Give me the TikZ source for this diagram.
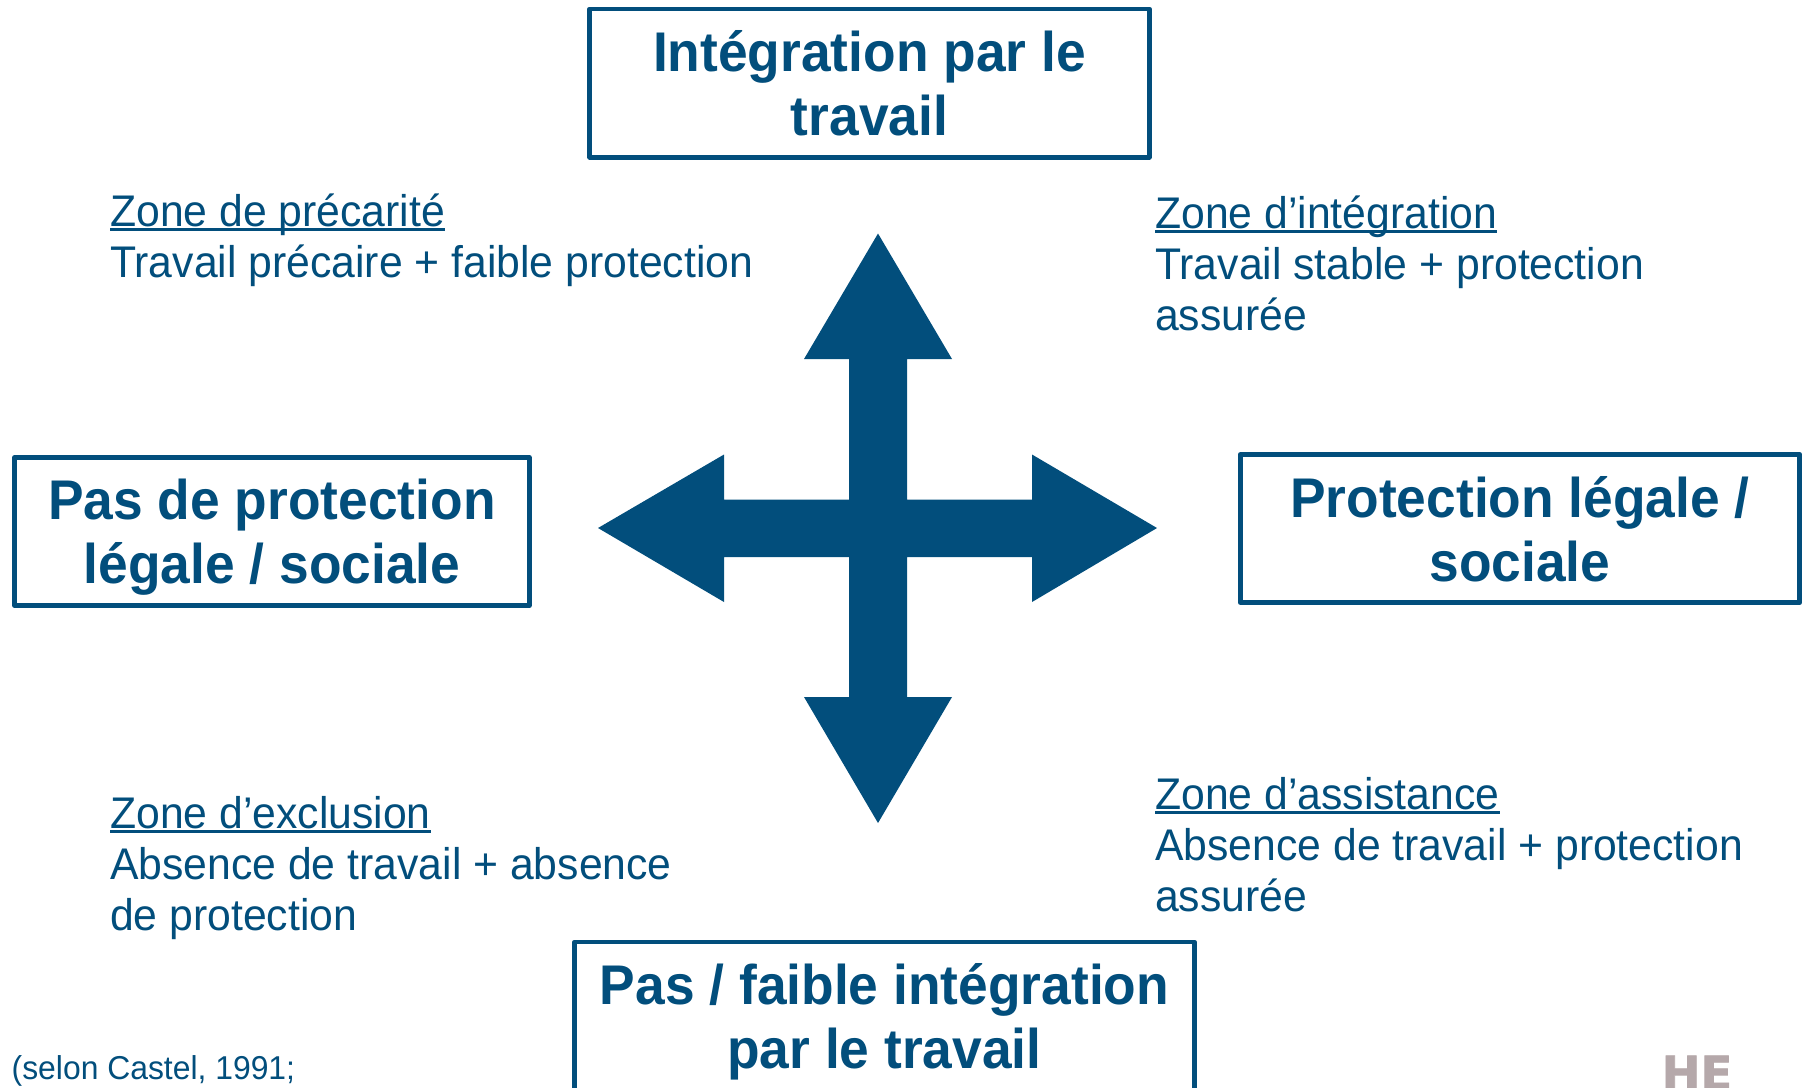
\documentclass[tikz,border=0pt]{standalone}
\usepackage{fontspec}
\setmainfont{Liberation Sans}[FakeStretch=0.964,BoldFeatures={FakeStretch=0.954}]
\newfontfamily\hefont{DejaVu Sans}[BoldFeatures={FakeBold=1.5}]
\definecolor{hesblue}{HTML}{024E7C}
\definecolor{hesgrey}{HTML}{B5A8AA}
\newsavebox{\zulbox}
\newcommand{\zul}[1]{\sbox{\zulbox}{#1}\rlap{\rule[-.1em]{\wd\zulbox}{.055em}}\usebox{\zulbox}}
\newcommand{\firstline}{\rule{0pt}{.8em}}
\tikzset{
  axisbox/.style={draw=hesblue,line width=1.4pt,line join=round,fill=white,inner sep=0pt,minimum height=1.48cm},
  axistext/.style={text=hesblue,align=center,inner sep=0pt,font=\fontsize{15.9}{18.2}\selectfont\bfseries},
  zonetext/.style={anchor=north west,inner sep=0pt,align=left,text=hesblue,
    font=\fontsize{12.6}{14.5}\selectfont},
  citetext/.style={anchor=north west,inner sep=0pt,text=hesblue,font=\fontsize{9.4}{11}\selectfont}
}
\begin{document}
\begin{tikzpicture}[x=0.01cm,y=-0.01cm]
\path[use as bounding box,clip] (0,0) rectangle (1804,1087);
% cross arrow
\fill[hesblue] (878,233.5) -- (952,359) -- (907,359) -- (907,499.5) -- (1032,499.5) -- (1032,454.5)
  -- (1157,528) -- (1032,602) -- (1032,557) -- (907,557) -- (907,697) -- (952,697)
  -- (878,823) -- (804,697) -- (849,697) -- (849,557) -- (724,557) -- (724,602)
  -- (598,528) -- (724,454.5) -- (724,499.5) -- (849,499.5) -- (849,359) -- (804,359) -- cycle;
% axis boxes
\node[axisbox,minimum width=5.59cm] (top) at (869.5,83) {};
\node[axistext] (toptext) at (top.center) {Intégration par le\\travail};
\node[axisbox,minimum width=5.14cm] (left) at (272,531.5) {};
\node[axistext] (lefttext) at ([yshift=-0.06cm]left.center) {Pas de protection\\légale / sociale};
\node[axisbox,minimum width=5.59cm] (right) at (1520,528.5) {};
\node[axistext] (righttext) at ([yshift=-0.012cm]right.center) {Protection légale /\\sociale};
\node[axisbox,minimum width=6.19cm] (bottom) at (884.5,1016) {};
\node[axistext] (bottomtext) at ([yshift=-0.06cm]bottom.center) {Pas / faible intégration\\par le travail};
% zone labels
\node[zonetext] (precarite) at (109.5,190) {\firstline\zul{Zone de précarité}\\Travail précaire + faible protection};
\node[zonetext] (integration) at (1154.5,192) {\firstline\zul{Zone d’intégration}\\Travail stable + protection\\assurée};
\node[zonetext] (exclusion) at (109.5,792) {\firstline\zul{Zone d’exclusion}\\Absence de travail + absence\\de protection};
\node[zonetext] (assistance) at (1154.5,773) {\firstline\zul{Zone d’assistance}\\Absence de travail + protection\\assurée};
\node[citetext] (cite) at (11,1055) {(selon Castel, 1991;};
\node[anchor=north west,inner sep=0pt,text=hesgrey,font=\hefont\fontsize{13.2}{15}\selectfont\bfseries] (he) at (1661,1055) {HE};
\end{tikzpicture}
\end{document}
